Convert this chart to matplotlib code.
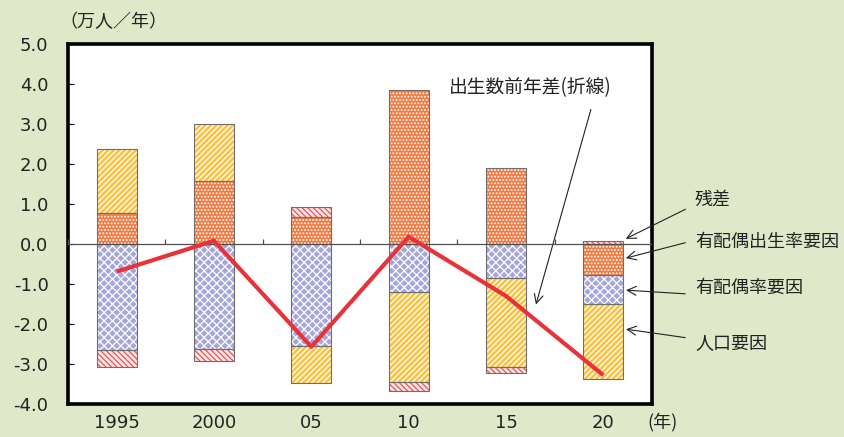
import numpy as np
import matplotlib.pyplot as plt

plt.rcParams['font.family'] = ['Noto Sans CJK JP', 'DejaVu Sans']
plt.rcParams['hatch.linewidth'] = 0.9

# データ(万人／年)
years = ['1995', '2000', '05', '10', '15', '20']
fert = [0.78, 1.58, 0.68, 3.85, 1.89, -0.78]       # 有配偶出生率要因
marr = [-2.65, -2.62, -2.54, -1.19, -0.86, -0.73]  # 有配偶率要因
pop = [1.59, 1.41, -0.94, -2.25, -2.21, -1.87]     # 人口要因
resid = [-0.42, -0.30, 0.24, -0.24, -0.15, 0.07]   # 残差
births = [-0.69, 0.08, -2.57, 0.18, -1.30, -3.28]  # 出生数前年差

bg = '#dfe9c9'
series = [
    (fert, '#f07a42', '.....'),
    (marr, '#a6a6da', 'xxxx'),
    (pop, '#f8c446', '//////'),
    (resid, '#fde3e3', '\\' * 6),
]

fig = plt.figure(figsize=(8.45, 4.37), dpi=100, facecolor=bg)
ax = fig.add_axes([68 / 845, 33 / 437, 584 / 845, 360 / 437])
ax.set_facecolor('white')

x = np.arange(len(years))
w = 0.41
pos = np.zeros(len(years))
neg = np.zeros(len(years))
for vals, col, hatch in series:
    v = np.array(vals)
    base = np.where(v >= 0, pos, neg)
    hc = '#e05a5a' if hatch.startswith('\\') else 'white'
    ax.bar(x, v, w, bottom=base, color=col, edgecolor=hc, hatch=hatch, lw=0, zorder=2)
    ax.bar(x, v, w, bottom=base, facecolor='none', edgecolor='#6e6e6e', lw=0.8, zorder=3)
    pos = np.where(v >= 0, pos + v, pos)
    neg = np.where(v < 0, neg + v, neg)

# 出生数前年差(折線)
ax.plot(x, births, color='#e8323a', lw=3, zorder=5, solid_capstyle='butt')

# ゼロ線
ax.axhline(0, color='#505050', lw=0.9, zorder=4)
ax.vlines(np.arange(len(years) + 1) - 0.5, 0, 0.12, color='#505050', lw=0.9, zorder=4)

ax.set_xlim(-0.5, len(years) - 0.5)
ax.set_ylim(-4, 5)
yt = np.arange(-4, 5.1, 1)
ax.set_yticks(yt)
ax.set_yticklabels([f'{v:.1f}' for v in yt], fontsize=13, color='#222222', family='DejaVu Sans')
ax.tick_params(axis='y', direction='in', length=4, pad=14)
ax.set_xticks(x)
ax.set_xticklabels(years, fontsize=13, color='#222222', family='DejaVu Sans')
ax.tick_params(axis='x', length=0, pad=7)
for s in ax.spines.values():
    s.set_linewidth(2.6)
    s.set_color('black')

fig.text(59 / 845, 1 - 22 / 437, '（万人／年）', fontsize=13, va='center', ha='left', color='#222222')
fig.text(663 / 845, 1 - 422 / 437, '(年)', fontsize=13, va='center', ha='center', color='#222222')

# 注記
arrow = dict(arrowstyle='->', color='#222222', lw=0.8, mutation_scale=16)
ax.text(4.25, 3.9, '出生数前年差(折線)', fontsize=13.5, ha='center', va='center', color='#222222')
ax.annotate('', xy=(4.30, -1.58), xytext=(4.88, 3.43), arrowprops=arrow, annotation_clip=False)

labels = ['残差', '有配偶出生率要因', '有配偶率要因', '人口要因']
text_y = [1 - 200 / 437, 1 - 242 / 437, 1 - 288 / 437, 1 - 343 / 437]
start_y = [1 - 208 / 437, 1 - 242 / 437, 1 - 294 / 437, 1 - 338 / 437]
tip_y = [0.1, -0.37, -1.15, -2.12]
for lab, ty, sy, py in zip(labels, text_y, start_y, tip_y):
    fig.text(695 / 845, ty, lab, fontsize=13, va='center', ha='left', color='#222222')
    ax.annotate('', xy=(len(years) - 1 + w / 2, py), xycoords='data',
                xytext=(688 / 845, sy), textcoords='figure fraction',
                arrowprops=arrow, annotation_clip=False)

fig.savefig('out.png', dpi=100, facecolor=bg)
